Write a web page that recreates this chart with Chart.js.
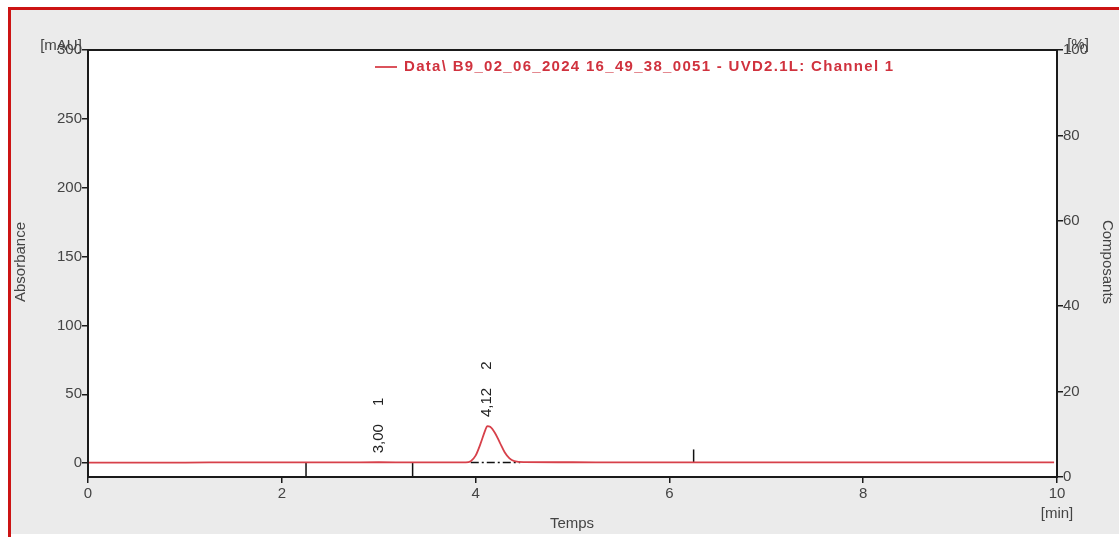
<!DOCTYPE html>
<html>
<head>
<meta charset="utf-8">
<script src="https://cdn.jsdelivr.net/npm/chart.js@4.4.1/dist/chart.umd.min.js"></script>
<style>
html,body{margin:0;padding:0;background:#fff;}
#wrap{position:absolute;left:0;top:0;width:1119px;height:537px;}
</style>
</head>
<body>
<div id="wrap"><canvas id="c" width="1119" height="537"></canvas></div>
<script>
// ---- data ----
const times      = [0, 0.5, 1.0, 1.5, 2.0, 2.25, 2.6, 3.0, 3.35, 3.7, 3.9, 3.95, 4.0, 4.05, 4.1, 4.12, 4.15, 4.2, 4.25, 4.3, 4.35, 4.4, 4.5, 5.0, 5.5, 6.0, 6.25, 7.0, 8.0, 9.0, 9.97];
const absorbance = [0.5, 0.5, 0.5, 0.6, 0.6, 0.6, 0.6, 0.7, 0.6, 0.6, 0.6, 1.5, 5.5, 14, 24, 27, 26.5, 22, 15, 8, 3.5, 1.5, 0.8, 0.7, 0.6, 0.6, 0.6, 0.6, 0.6, 0.6, 0.6];
const baselineTimes  = [3.95, 4.46];
const baselineValues = [0.5, 0.5];
const markerTimes    = [2.25, 3.35, 6.25];
const markerFrom     = [0.6, 0.6, 0.6];
const markerTo       = [-10, -10, 10];
const peakTimes      = [3.00, 4.12];
const peakApex       = [0.7, 27];
const peakTimeLabels = ['3,00', '4,12'];
const peakNumbers    = ['1', '2'];
const xTicks  = [0, 2, 4, 6, 8, 10];
const yTicks  = [0, 50, 100, 150, 200, 250, 300];
const y2Ticks = [0, 20, 40, 60, 80, 100];
const seriesName = 'Data\\ B9_02_06_2024 16_49_38_0051 - UVD2.1L: Channel 1';

const FONT = '"Liberation Sans", Arial, sans-serif';
const RED = '#d7404a';
const TEXT = '#444444';

const datasets = [{
  label: seriesName,
  data: times.map((t, i) => ({x: t, y: absorbance[i]})),
  borderColor: RED, borderWidth: 1.8, pointRadius: 0, tension: 0.35,
  cubicInterpolationMode: 'monotone', yAxisID: 'y'
}, {
  label: 'baseline',
  data: baselineTimes.map((t, i) => ({x: t, y: baselineValues[i]})),
  borderColor: '#111', borderWidth: 1.5, borderDash: [8, 3, 2, 3], pointRadius: 0, yAxisID: 'y'
}];
markerTimes.forEach((t, i) => {
  datasets.push({
    label: 'marker' + i,
    data: [{x: t, y: markerFrom[i]}, {x: t, y: markerTo[i]}],
    borderColor: '#111', borderWidth: 1.5, pointRadius: 0, yAxisID: 'y'
  });
});

const bgPlugin = {
  id: 'bg',
  beforeDraw(chart) {
    const c = chart.ctx, a = chart.chartArea;
    c.save();
    c.fillStyle = '#ffffff'; c.fillRect(0, 0, 1119, 537);
    c.fillStyle = '#ebebeb'; c.fillRect(10, 10, 1109, 524);
    c.fillStyle = '#cc1414';
    c.fillRect(8, 7, 1111, 3);
    c.fillRect(8, 7, 3, 530);
    c.fillStyle = '#ffffff'; c.fillRect(a.left, a.top, a.right - a.left, a.bottom - a.top);
    c.restore();
  },
  afterDraw(chart) {
    const c = chart.ctx, a = chart.chartArea;
    const xs = chart.scales.x, ys = chart.scales.y;
    c.save();
    // frame
    c.strokeStyle = '#1a1a1a'; c.lineWidth = 2;
    c.strokeRect(a.left, a.top, a.right - a.left, a.bottom - a.top);
    // legend
    c.strokeStyle = RED; c.lineWidth = 1.8;
    c.beginPath(); c.moveTo(375, 67); c.lineTo(397, 67); c.stroke();
    c.fillStyle = '#d0323e'; c.font = 'bold 15px ' + FONT;
    c.textBaseline = 'middle'; c.textAlign = 'left';
    c.save();
    c.letterSpacing = '1.3px';
    c.fillText(seriesName, 404, 67);
    c.restore();
    // units / titles
    c.fillStyle = TEXT; c.font = '15px ' + FONT;
    c.textAlign = 'center';
    c.fillText('[mAU]', 61, 46);
    c.fillText('[%]', 1078, 45);
    c.fillText('[min]', 1057, 514);
    c.fillText('Temps', 572, 524);
    c.save(); c.translate(21, 262); c.rotate(-Math.PI / 2);
    c.fillText('Absorbance', 0, 0); c.restore();
    c.save(); c.translate(1107, 262); c.rotate(Math.PI / 2);
    c.fillText('Composants', 0, 0); c.restore();
    // peak annotations
    c.fillStyle = '#222'; c.font = '15px ' + FONT;
    peakTimes.forEach((t, i) => {
      const px = xs.getPixelForValue(t);
      const py = ys.getPixelForValue(peakApex[i]) - 9;
      c.save(); c.translate(px, py); c.rotate(-Math.PI / 2);
      c.textAlign = 'left'; c.textBaseline = 'middle';
      c.fillText(peakTimeLabels[i], 0, 0);
      const w = c.measureText(peakTimeLabels[i]).width;
      c.fillText(peakNumbers[i], w + 18, 0);
      c.restore();
    });
    c.restore();
  }
};

new Chart(document.getElementById('c'), {
  type: 'line',
  data: {datasets},
  options: {
    responsive: false, animation: false,
    layout: {padding: {top: 50, left: 0, right: 0, bottom: 0}},
    plugins: {legend: {display: false}, tooltip: {enabled: false}},
    scales: {
      x: {
        type: 'linear', min: 0, max: 10,
        afterBuildTicks(s) { s.ticks = xTicks.map(v => ({value: v})); },
        afterFit(s) { s.height = 60; },
        grid: {display: true, drawOnChartArea: false, drawTicks: true, tickLength: 6, color: '#1a1a1a', lineWidth: 1.5},
        border: {display: false},
        ticks: {color: TEXT, font: {family: FONT, size: 15}, padding: 2, maxRotation: 0}
      },
      y: {
        position: 'left', min: -10, max: 300,
        afterBuildTicks(s) { s.ticks = yTicks.map(v => ({value: v})); },
        afterFit(s) { s.width = 88; },
        grid: {display: true, drawOnChartArea: false, drawTicks: true, tickLength: 6, color: '#1a1a1a', lineWidth: 1.5},
        border: {display: false},
        ticks: {color: TEXT, font: {family: FONT, size: 15}, padding: 0}
      },
      y2: {
        position: 'right', min: 0, max: 100,
        afterBuildTicks(s) { s.ticks = y2Ticks.map(v => ({value: v})); },
        afterFit(s) { s.width = 62; },
        grid: {display: true, drawOnChartArea: false, drawTicks: true, tickLength: 6, color: '#1a1a1a', lineWidth: 1.5},
        border: {display: false},
        ticks: {color: TEXT, font: {family: FONT, size: 15}, padding: 0}
      }
    }
  },
  plugins: [bgPlugin]
});
</script>
</body>
</html>
